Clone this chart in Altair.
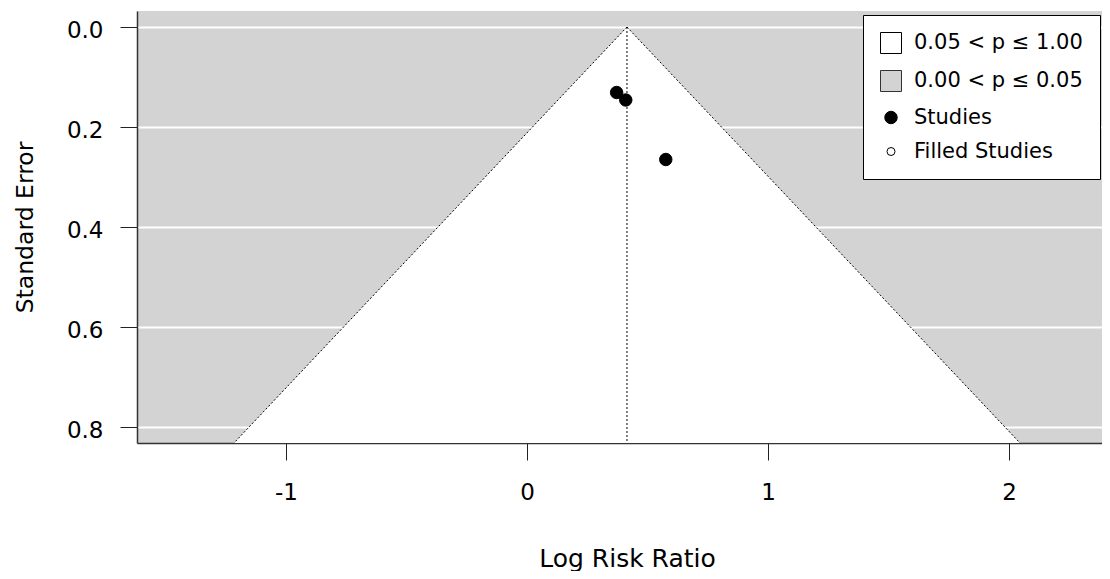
import altair as alt
import pandas as pd

# ---- data ----
estimates = [0.372, 0.410, 0.576]       # log risk ratio of each study
std_errors = [0.131, 0.146, 0.265]      # standard error of each study
pooled = 0.415                           # pooled estimate (funnel centre)
se_bottom = 0.832                        # lower end of the funnel region
z_crit = 1.96

x_ticks = [-1, 0, 1, 2]
y_ticks = [0.0, 0.2, 0.4, 0.6, 0.8]
x_domain = [-1.618, 2.386]
y_domain = [-0.032, 0.832]

legend_labels = ["0.05 < p \u2264 1.00", "0.00 < p \u2264 0.05", "Studies", "Filled Studies"]
legend_fills = ["white", "#D3D3D3", "black", "white"]
legend_strokes = ["black", "#333333", "black", "black"]
legend_shapes = ["square", "square", "circle", "circle"]
legend_sizes = [441, 441, 155, 64]

FONT = "DejaVu Sans"

studies = pd.DataFrame({"estimate": estimates, "se": std_errors,
                        "kind": ["Studies"] * len(estimates)})

funnel = pd.DataFrame({
    "se": [0.0, se_bottom],
    "lo": [pooled - z_crit * 0.0, pooled - z_crit * se_bottom],
    "hi": [pooled + z_crit * 0.0, pooled + z_crit * se_bottom],
})

edges = pd.DataFrame({
    "x": [pooled, pooled],
    "y": [0.0, 0.0],
    "x2": [pooled - z_crit * se_bottom, pooled + z_crit * se_bottom],
    "y2": [se_bottom, se_bottom],
})
centre = pd.DataFrame({"x": [pooled], "y": [0.0], "y2": [se_bottom]})

x_scale = alt.Scale(domain=x_domain, nice=False, zero=False)
y_scale = alt.Scale(domain=y_domain, nice=False, zero=False, reverse=True)

x_axis = alt.Axis(
    title="Log Risk Ratio", values=x_ticks, labelExpr="'' + datum.value", grid=False,
    tickSize=17, tickColor="#222", tickWidth=1,
    domainColor="#333", domainWidth=1.5,
    labelFont=FONT, labelFontSize=23, labelColor="black", labelPadding=21,
    titleFont=FONT, titleFontSize=25, titleFontWeight="normal", titleColor="black",
    titleBaseline="alphabetic", titleAlign="center", titleX=490, titleY=123,
)
y_axis = alt.Axis(
    title="Standard Error", values=y_ticks, format=".1f",
    grid=True, gridColor="white", gridWidth=2,
    tickSize=17, tickColor="#222", tickWidth=1,
    domainColor="#333", domainWidth=1.5,
    labelFont=FONT, labelFontSize=23, labelColor="black", labelPadding=17, labelOffset=3,
    titleFont=FONT, titleFontSize=23.5, titleFontWeight="normal", titleColor="black",
    titleAngle=270, titleBaseline="alphabetic", titleAlign="center",
    titleX=-105, titleY=216,
)


def X(field):
    return alt.X(f"{field}:Q", scale=x_scale, axis=x_axis)


def Y(field):
    return alt.Y(f"{field}:Q", scale=y_scale, axis=y_axis)


tri = alt.Chart(funnel).mark_area(orient="horizontal", color="white", opacity=1).encode(
    y=Y("se"), x=X("lo"), x2="hi"
)

edge_lines = alt.Chart(edges).mark_rule(color="black", strokeWidth=1, strokeDash=[2, 2]).encode(
    x=X("x"), y=Y("y"), x2="x2", y2="y2"
)
centre_line = alt.Chart(centre).mark_rule(color="black", strokeWidth=1, strokeDash=[2, 2]).encode(
    x=X("x"), y=Y("y"), y2="y2"
)

leg = alt.Legend(
    title=None, orient="none", legendX=726, legendY=4,
    fillColor="white", strokeColor="black", padding=17, rowPadding=12,
    labelFont=FONT, labelFontSize=21, labelColor="black", labelOffset=12, labelLimit=400,
    symbolStrokeWidth=1, symbolOpacity=1, cornerRadius=0,
)

points = alt.Chart(studies).mark_point(filled=True, strokeWidth=1, opacity=1).encode(
    x=X("estimate"),
    y=Y("se"),
    fill=alt.Fill("kind:N", scale=alt.Scale(domain=legend_labels, range=legend_fills), legend=leg),
    stroke=alt.Stroke("kind:N", scale=alt.Scale(domain=legend_labels, range=legend_strokes), legend=leg),
    shape=alt.Shape("kind:N", scale=alt.Scale(domain=legend_labels, range=legend_shapes), legend=leg),
    size=alt.Size("kind:N", scale=alt.Scale(type="ordinal", domain=legend_labels, range=legend_sizes),
                  legend=leg),
)

chart = alt.layer(tri, edge_lines, centre_line, points).properties(
    width=965, height=432,
    autosize=alt.AutoSizeParams(type="none"),
    padding={"left": 129, "top": 3, "right": 0, "bottom": 128},
    background="white",
).configure_view(fill="#D3D3D3", stroke=None)

chart.save("out.html", embed_options={"renderer": "svg", "actions": False})
